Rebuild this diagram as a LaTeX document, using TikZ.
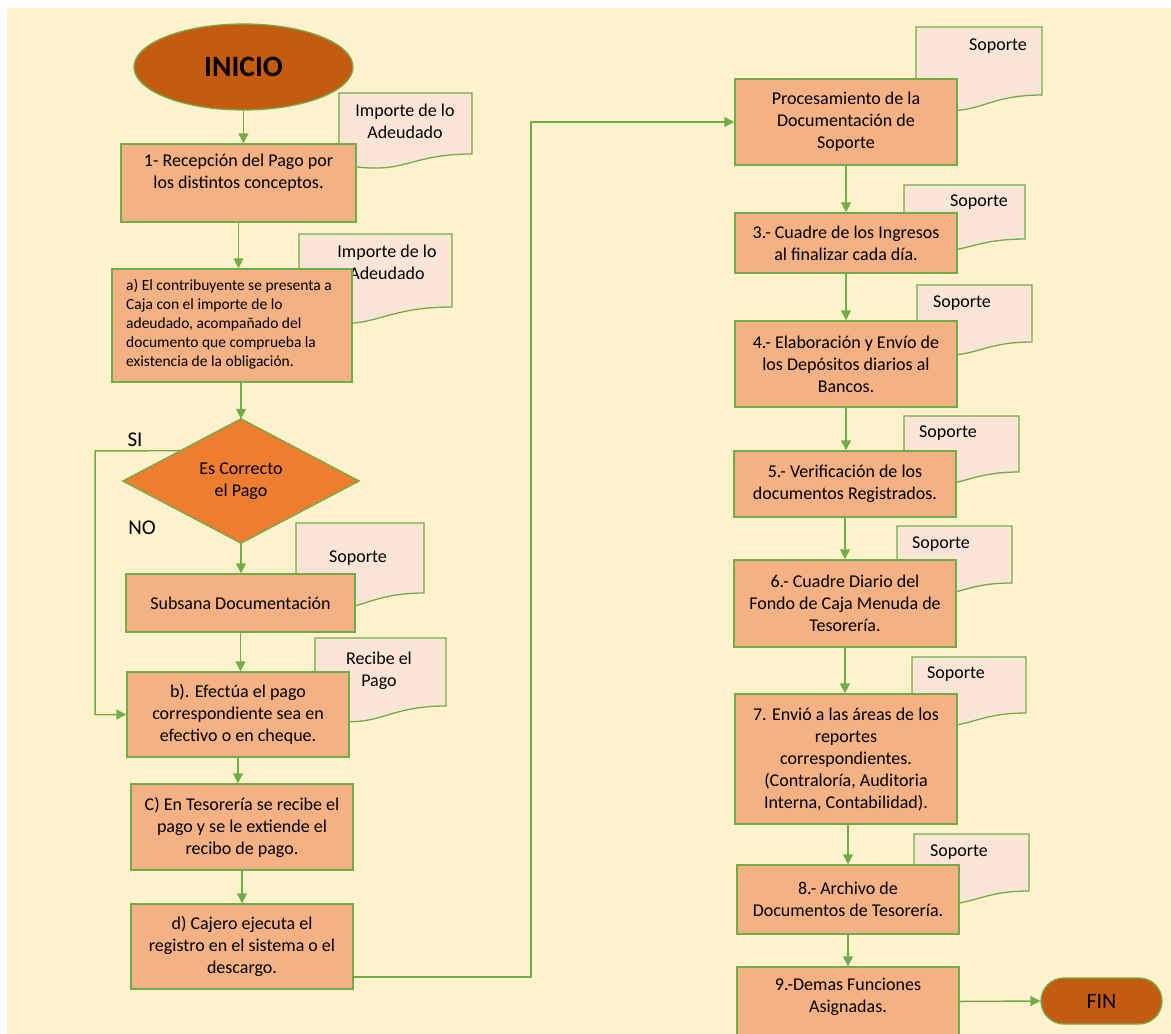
\documentclass[tikz,border=0pt]{standalone}
\usepackage{fontspec}
\setmainfont{Carlito}
\usetikzlibrary{arrows.meta,shapes.geometric,calc}
\definecolor{cream}{HTML}{FFF2CC}
\definecolor{boxor}{HTML}{F4B183}
\definecolor{docfill}{HTML}{FBE5D6}
\definecolor{decor}{HTML}{ED7D31}
\definecolor{darkor}{HTML}{C55A11}
\definecolor{lgreen}{HTML}{70AD47}
\newcommand\mainsz{\fontsize{18}{22}\selectfont}
\newcommand\smallsz{\fontsize{15.5}{19}\selectfont}
\newcommand\docshape[4]{%
 \pgfmathsetmacro\docH{(#4-#2)/0.802}%
 \pgfmathsetmacro\docMX{(#1+#3)/2}%
 \pgfmathsetmacro\docCY{#2+1.107*\docH}%
 \pgfmathsetmacro\docEY{#2+0.934*\docH}%
 \filldraw[docsty] (#1,#2) -- (#3,#2) -- (#3,#4) .. controls (\docMX,#4) and (\docMX,\docCY) .. (#1,\docEY) -- cycle;}
\begin{document}
\begin{tikzpicture}[x=1pt,y=-1pt,
  docsty/.style={draw=lgreen, fill=docfill, line width=1.3pt},
  boxsty/.style={draw=lgreen, fill=boxor, line width=1.5pt, inner sep=2pt, align=center, font=\mainsz},
  txt/.style={align=center, font=\mainsz, inner sep=0pt},
  conn/.style={draw=lgreen, line width=1.5pt},
  arr/.style={conn, -{Triangle[width=10pt,length=10pt]}}]
\useasboundingbox (0,0) rectangle (1171,1034);
\clip (0,0) rectangle (1171,1034);
\fill[cream] (7,8) rectangle (1171,1040);

% document shapes (left column)
\docshape{339}{93}{472}{154}
\node[txt] (t1) at (405,121.5) {Importe de lo\\Adeudado};
\docshape{299}{234}{452}{307}
\node[txt] (t2) at (387,262.5) {Importe de lo\\Adeudado};
\docshape{296}{523}{424}{593}
\node[txt] (t3) at (358,558) {Soporte};
\docshape{315}{638}{446}{706}
\node[txt] (t4) at (379,670.5) {Recibe el\\Pago};

% document shapes (right column)
\docshape{916}{27}{1042}{95}
\node[txt] (r0) at (998,46) {Soporte};
\docshape{904}{185}{1025}{239}
\node[txt] (r3) at (979,202) {Soporte};
\docshape{917}{285}{1032}{342}
\node[txt] (r4) at (962,303) {Soporte};
\docshape{904}{416}{1019}{472}
\node[txt] (r5) at (948,433) {Soporte};
\docshape{897}{526}{1012}{583}
\node[txt] (r6) at (941,544) {Soporte};
\docshape{912}{657}{1026}{713}
\node[txt] (r7) at (956,674) {Soporte};
\docshape{914}{834}{1029}{891}
\node[txt] (r8) at (959,852) {Soporte};

% start
\node[ellipse, draw=lgreen, fill=darkor, line width=1.3pt, minimum width=219pt, minimum height=86pt, inner sep=0pt, font=\fontsize{29.5}{32}\selectfont\bfseries] (ini) at (243.5,67) {INICIO};

% left column boxes
\node[boxsty, minimum width=235pt, minimum height=78pt] (b1) at (238.5,183) {};
\node[txt] (b1t) at (238.5,172.5) {1- Recepción del Pago por\\los distintos conceptos.};
\node[boxsty, minimum width=240pt, minimum height=113pt] (ba) at (232,325.5) {};
\node[txt, align=left, font=\smallsz, anchor=west] (bat) at (126,324) {a) El contribuyente se presenta a\\Caja con el importe de lo\\adeudado, acompañado del\\documento que comprueba la\\existencia de la obligación.};

\node[minimum width=236pt, minimum height=124pt, inner sep=0pt] (dec) at (241,481) {};
\filldraw[draw=lgreen, fill=decor, line width=1.3pt] (dec.north) -- (dec.east) -- (dec.south) -- (dec.west) -- cycle;
\node[txt] (dect) at (dec.center) {Es Correcto\\el Pago};
\node[font=\fontsize{21}{24}\selectfont, inner sep=0pt] (si) at (135,440) {SI};
\node[font=\fontsize{21}{24}\selectfont, inner sep=0pt] (no) at (142,528) {NO};

\node[boxsty, minimum width=229pt, minimum height=58pt] (bs) at (240.5,603) {Subsana Documentación};
\node[boxsty, minimum width=222pt, minimum height=85pt] (bb) at (238,714.5) {b). Efectúa el pago\\correspondiente sea en\\efectivo o en cheque.};
\node[boxsty, minimum width=222pt, minimum height=86pt] (bc) at (242,827) {C) En Tesorería se recibe el\\pago y se le extiende el\\recibo de pago.};
\node[boxsty, minimum width=222pt, minimum height=85pt] (bd) at (242,946.5) {d) Cajero ejecuta el\\registro en el sistema o el\\descargo.};

% right column boxes
\node[boxsty, minimum width=222pt, minimum height=86pt] (proc) at (846,122) {Procesamiento de la\\Documentación de\\Soporte};
\node[boxsty, minimum width=222pt, minimum height=60pt] (b3) at (846,243) {3.- Cuadre de los Ingresos\\al finalizar cada día.};
\node[boxsty, minimum width=222pt, minimum height=86pt] (b4) at (846,364) {4.- Elaboración y Envío de\\los Depósitos diarios al\\Bancos.};
\node[boxsty, minimum width=222pt, minimum height=66pt] (b5) at (845,484) {5.- Verificación de los\\documentos Registrados.};
\node[boxsty, minimum width=222pt, minimum height=87pt] (b6) at (845,603.5) {6.- Cuadre Diario del\\Fondo de Caja Menuda de\\Tesorería.};
\node[boxsty, minimum width=222pt, minimum height=130pt] (b7) at (846,759) {7. Envió a las áreas de los\\reportes\\correspondientes.\\(Contraloría, Auditoria\\Interna, Contabilidad).};
\node[boxsty, minimum width=222pt, minimum height=69pt] (b8) at (848,899.5) {8.- Archivo de\\Documentos de Tesorería.};
\node[boxsty, minimum width=222pt, minimum height=69pt] (b9) at (848,1001.5) {};
\node[txt] (b9t) at (848,997) {9.-Demas Funciones\\Asignadas.};

\node[draw=lgreen, fill=darkor, line width=1.3pt, rounded corners=23pt, minimum width=121pt, minimum height=46pt, inner sep=0pt, font=\fontsize{22}{24}\selectfont] (fin) at (1101.5,1001) {FIN};

% connectors
\draw[arr] (ini.south) -- (ini.south |- b1.north);
\draw[arr] (b1.south) -- (b1.south |- ba.north);
\draw[arr] (dec.north |- ba.south) -- (dec.north);
\draw[arr] (dec.south) -- (dec.south |- bs.north);
\draw[arr] (bs.south) -- (bs.south |- bb.north);
\draw[arr] (bb.south) -- (bb.south |- bc.north);
\draw[arr] (bc.south) -- (bc.south |- bd.north);
\draw[arr] ($(dec.west)!0.487!(dec.north)$) -- (95,450.8) |- (bb.west);
\coordinate (k1) at (531,977);
\coordinate (k2) at (531,122);
\draw[arr] (bd.east |- k1) -- (k1) -- (k2) -- (proc.west);
\draw[arr] (proc.south) -- (proc.south |- b3.north);
\draw[arr] (b3.south) -- (b3.south |- b4.north);
\draw[arr] (b4.south) -- (b4.south |- b5.north);
\draw[arr] (b5.south) -- (b5.south |- b6.north);
\draw[arr] (b6.south) -- (b6.south |- b7.north);
\draw[arr] (b8.north |- b7.south) -- (b8.north);
\draw[arr] (b8.south) -- (b8.south |- b9.north);
\draw[arr] (b9.east) -- (fin.west);
\end{tikzpicture}
\end{document}
